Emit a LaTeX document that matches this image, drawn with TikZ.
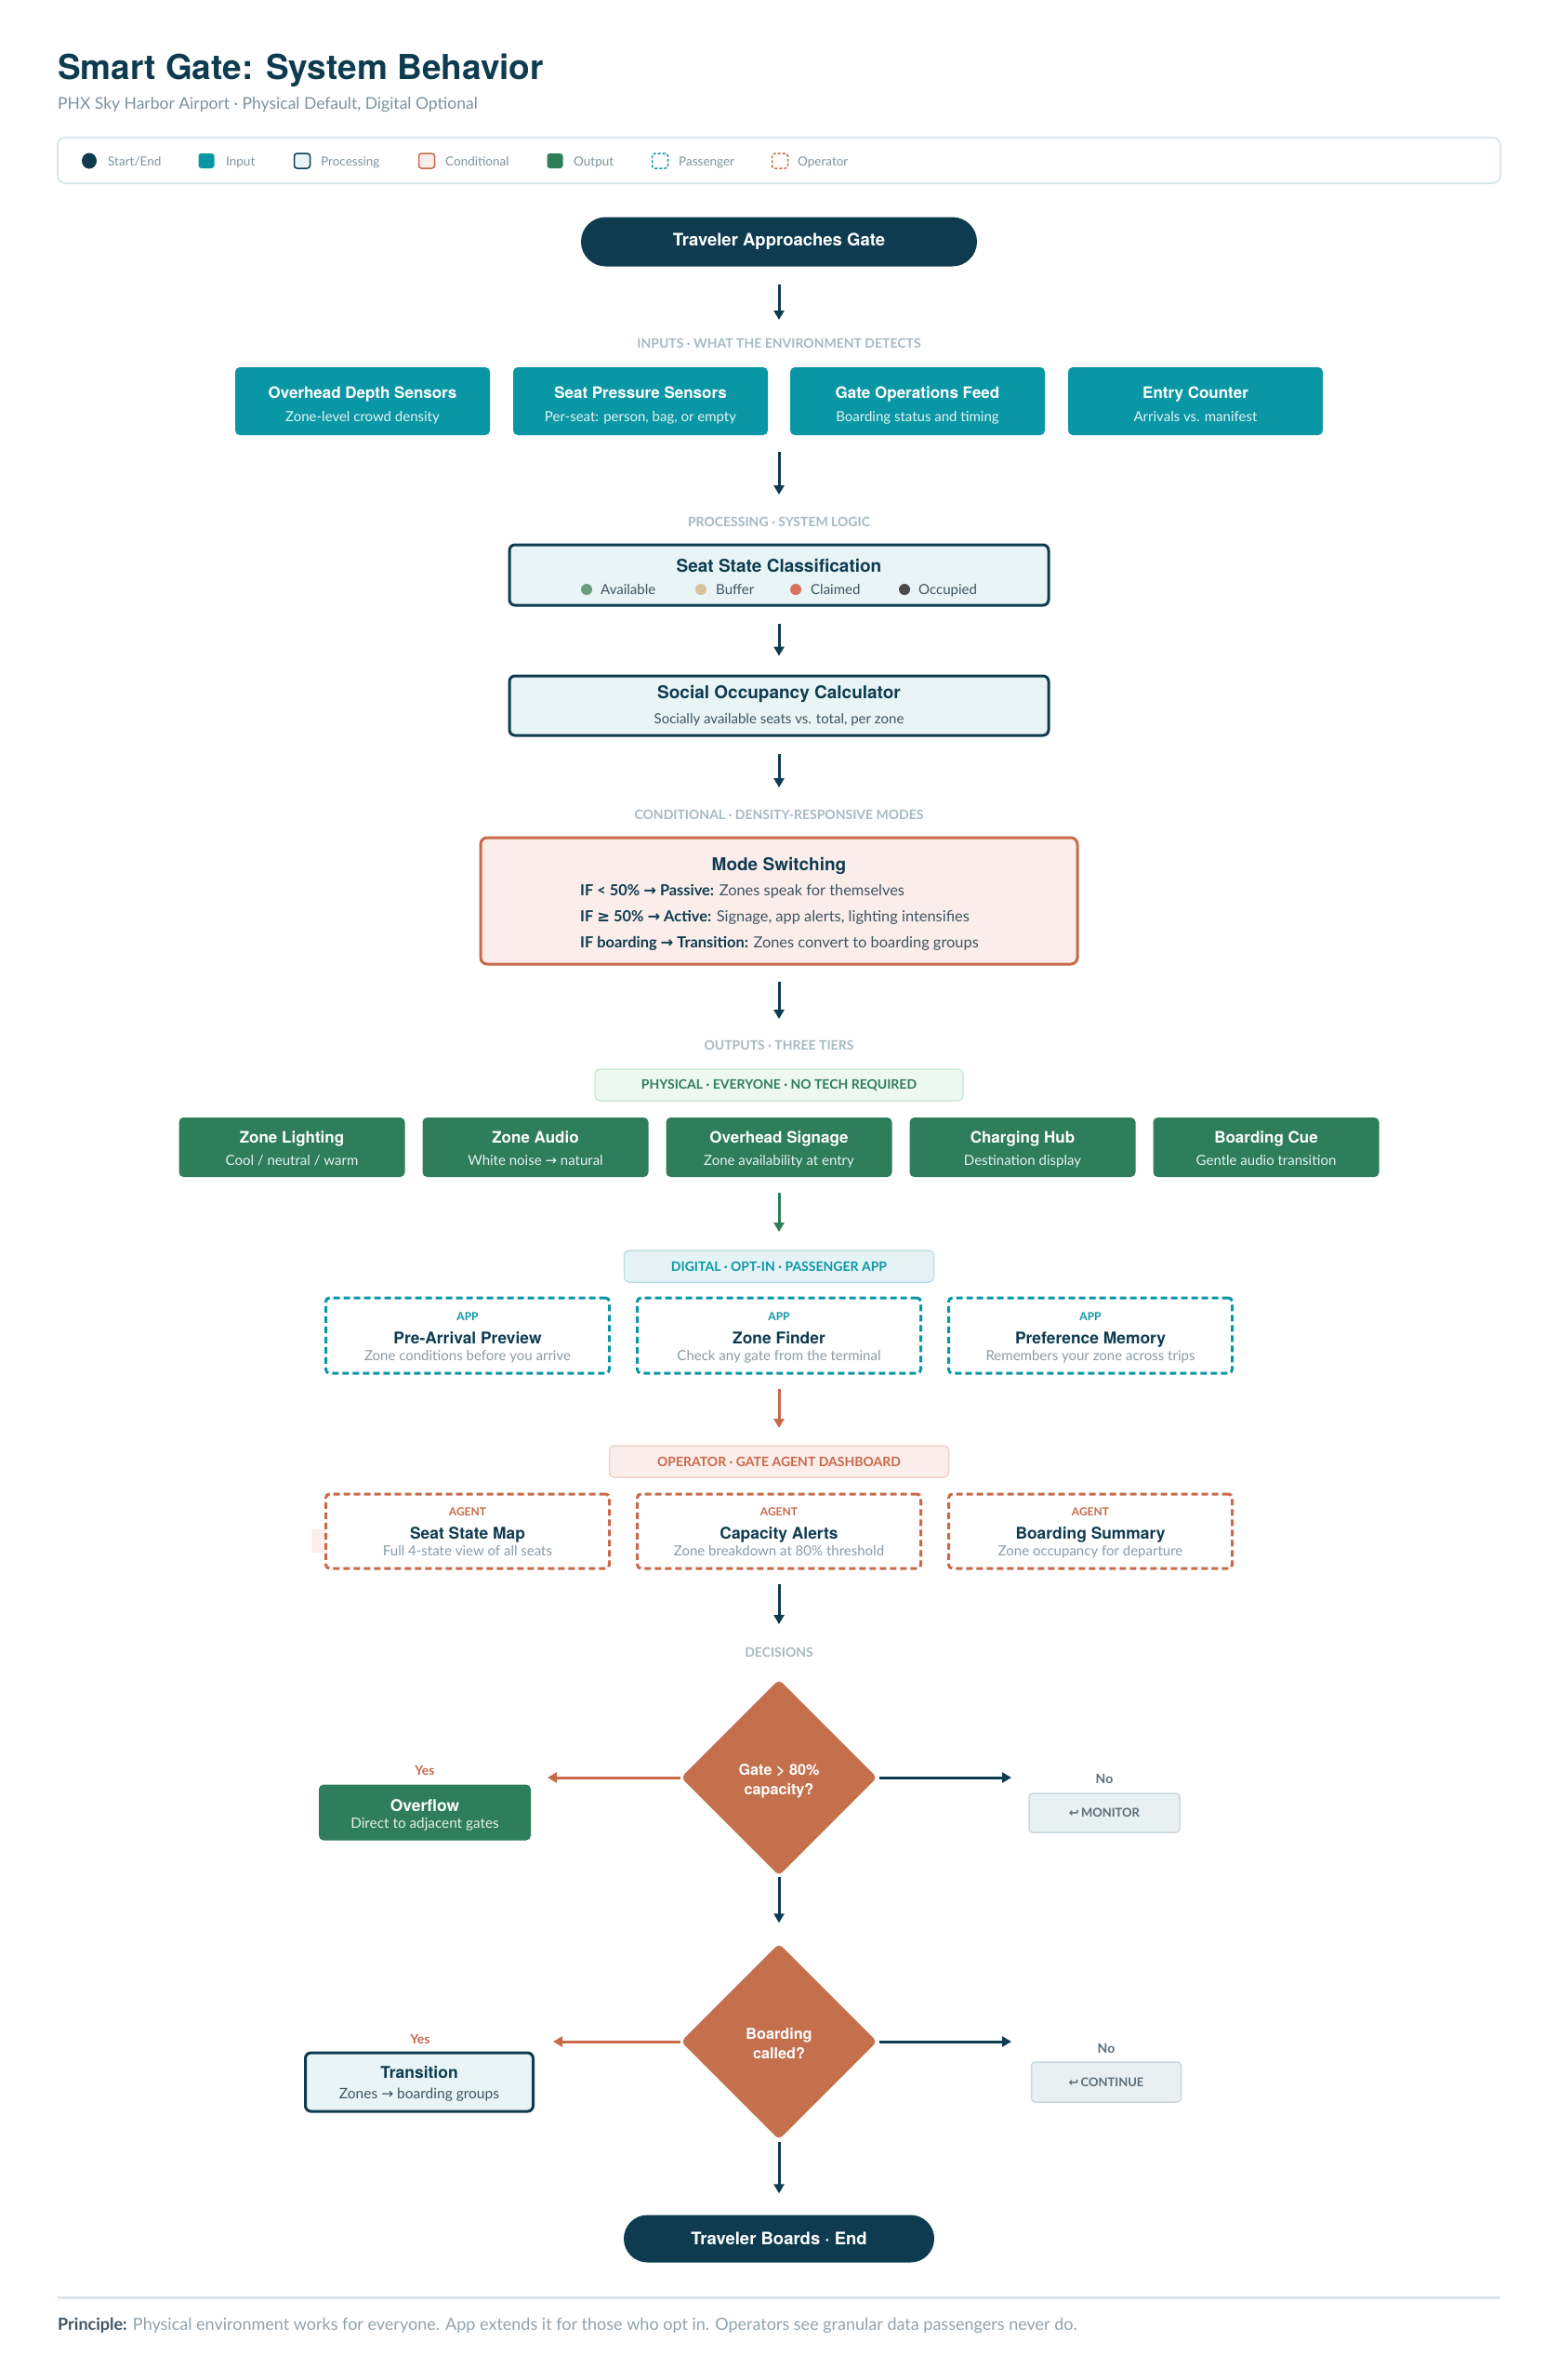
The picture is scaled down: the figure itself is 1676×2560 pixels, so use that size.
\documentclass[tikz,border=0pt]{standalone}
\usepackage{fontspec}
\setmainfont{Lato}
\newfontfamily\hd{TeX Gyre Heros}
\newfontfamily\sym{DejaVu Sans}
\usetikzlibrary{shapes.geometric,shapes.misc,arrows.meta}
\definecolor{cNavy}{HTML}{0E3B50}
\definecolor{cTeal}{HTML}{0A97A5}
\definecolor{cGreen}{HTML}{2E7D5B}
\definecolor{cOrange}{HTML}{C8694A}
\definecolor{cDia}{HTML}{C4704D}
\definecolor{cProc}{HTML}{E8F4F6}
\definecolor{cPink}{HTML}{FBEDEA}
\definecolor{cPinkB}{HTML}{F2D3CA}
\definecolor{cMint}{HTML}{EEF8F2}
\definecolor{cMintB}{HTML}{CDEBD8}
\definecolor{cIce}{HTML}{E6F3F6}
\definecolor{cIceB}{HTML}{BFE0E6}
\definecolor{cSec}{HTML}{A6B9C3}
\definecolor{cLeg}{HTML}{7F929C}
\definecolor{cSub}{HTML}{7D929D}
\definecolor{cSlate}{HTML}{3E5563}
\definecolor{cGray}{HTML}{8A9CA6}
\definecolor{cLegB}{HTML}{DCE7EA}
\definecolor{cGhost}{HTML}{E9F0F2}
\definecolor{cGhostB}{HTML}{C9D8DE}
\definecolor{cGhostT}{HTML}{5A6E7A}
\definecolor{cAvail}{HTML}{6A9E7F}
\definecolor{cBuf}{HTML}{D9C39A}
\definecolor{cClaim}{HTML}{D9735F}
\definecolor{cOcc}{HTML}{4A4A4A}
\definecolor{cFaint}{HTML}{FCEFEB}
\newcommand\fs[1]{\fontsize{#1}{#1}\selectfont}
\begin{document}
\begin{tikzpicture}[x=1pt,y=-1pt,
  txt/.style={anchor=base, inner sep=0pt},
  txtw/.style={anchor=base west, inner sep=0pt},
  sec/.style={txt, font=\bfseries\fs{14}, text=cSec},
  lg/.style={txtw, font=\fs{13.5}, text=cLeg},
  lgi/.style={rectangle, rounded corners=3, minimum width=17, minimum height=16, inner sep=0, line width=1.5},
  term/.style={rounded rectangle, fill=cNavy, text=white, font=\hd\bfseries\fs{18.5}, inner sep=0},
  inbox/.style={rectangle, rounded corners=5, fill=cTeal, minimum width=274, minimum height=73, inner sep=0},
  wt/.style={txt, font=\hd\bfseries\fs{17}, text=white},
  ws/.style={txt, font=\fs{15}, text=white!88!cTeal},
  procbox/.style={rectangle, rounded corners=6, fill=cProc, draw=cNavy, line width=3, minimum width=580, inner sep=0},
  nt/.style={txt, font=\hd\bfseries\fs{19}, text=cNavy},
  condbox/.style={rectangle, rounded corners=7, fill=cPink, draw=cOrange, line width=3, minimum width=642, minimum height=136, inner sep=0},
  tagbox/.style={rectangle, rounded corners=5, line width=1.5, minimum height=34, inner sep=0, font=\bfseries\fs{14}},
  outbox/.style={rectangle, rounded corners=5, fill=cGreen, minimum width=243, minimum height=64, inner sep=0},
  dbox/.style={rectangle, rounded corners=4, dash pattern=on 7pt off 4pt, line width=3, fill=white, minimum width=305, inner sep=0},
  tag/.style={txt, font=\bfseries\fs{12}},
  dt/.style={txt, font=\hd\bfseries\fs{17.4}, text=cNavy},
  ds/.style={txt, font=\fs{15}, text=cGray},
  dec/.style={diamond, aspect=1, fill=cDia, minimum width=211, minimum height=211, inner sep=0, rounded corners=5},
  dect/.style={txt, font=\hd\bfseries\fs{16.2}, text=white},
  yes/.style={txt, font=\bfseries\fs{14}, text=cOrange},
  no/.style={txt, font=\bfseries\fs{14}, text=cGhostT},
  ghost/.style={rectangle, rounded corners=4, fill=cGhost, draw=cGhostB, line width=1.5, font=\bfseries\fs{13}, text=cGhostT, minimum width=162, minimum height=42, inner sep=0},
  arr/.style={line width=3, draw=cNavy, -{Triangle[length=10pt,width=11pt]}},
  arrg/.style={arr, draw=cGreen},
  arro/.style={arr, draw=cOrange}
]
\useasboundingbox (0,0) rectangle (1676,2560);
\fill[white] (0,0) rectangle (1676,2560);

% title
\node[txtw, font=\hd\bfseries\fs{37}, text=cNavy] (title) at (62,85) {Smart Gate: System Behavior};
\node[txtw, font=\fs{17.5}, text=cSub] (subtitle) at (62,117) {PHX Sky Harbor Airport · Physical Default, Digital Optional};

% legend
\node[draw=cLegB, line width=2, rounded corners=8, minimum width=1552, minimum height=49, inner sep=0] (legend) at (838,172.5) {};
\node[ellipse, fill=cNavy, minimum width=16, minimum height=17, inner sep=0] (lgi1) at (96,173) {};
\node[lg] (lgt1) at (116,178) {Start/End};
\node[lgi, fill=cTeal] (lgi2) at (222,173) {};
\node[lg] (lgt2) at (243,178) {Input};
\node[lgi, fill=cProc, draw=cNavy] (lgi3) at (325,173) {};
\node[lg] (lgt3) at (345,178) {Processing};
\node[lgi, fill=cPink, draw=cOrange] (lgi4) at (459,173) {};
\node[lg] (lgt4) at (479,178) {Conditional};
\node[lgi, fill=cGreen] (lgi5) at (597,173) {};
\node[lg] (lgt5) at (617,178) {Output};
\node[lgi, draw=cTeal, dash pattern=on 3pt off 2pt] (lgi6) at (710,173) {};
\node[lg] (lgt6) at (730,178) {Passenger};
\node[lgi, draw=cOrange, dash pattern=on 3pt off 2pt] (lgi7) at (839,173) {};
\node[lg] (lgt7) at (858,178) {Operator};

% start
\node[term, minimum width=426, minimum height=53] (start) at (838,260) {Traveler Approaches Gate};
\coordinate (a1e) at (838,344);
\draw[arr, shorten <=19] (start) -- (a1e);

% inputs
\node[sec] (lblIn) at (838,374) {INPUTS · WHAT THE ENVIRONMENT DETECTS};
\node[inbox] (in1) at (390,431.5) {};
\node[wt] (in1t) at (390,428.5) {Overhead Depth Sensors};
\node[ws] (in1s) at (390,453.5) {Zone-level crowd density};
\node[inbox] (in2) at (689,431.5) {};
\node[wt] (in2t) at (689,428.5) {Seat Pressure Sensors};
\node[ws] (in2s) at (689,453.5) {Per-seat: person, bag, or empty};
\node[inbox] (in3) at (987,431.5) {};
\node[wt] (in3t) at (987,428.5) {Gate Operations Feed};
\node[ws] (in3s) at (987,453.5) {Boarding status and timing};
\node[inbox] (in4) at (1286,431.5) {};
\node[wt] (in4t) at (1286,428.5) {Entry Counter};
\node[ws] (in4s) at (1286,453.5) {Arrivals vs. manifest};
\coordinate (a2s) at (838,486);
\coordinate (a2e) at (838,532);
\draw[arr] (a2s) -- (a2e);

% processing
\node[sec] (lblProc) at (838,566) {PROCESSING · SYSTEM LOGIC};
\node[procbox, minimum height=65] (seat) at (838,618.5) {};
\node[nt] (seatt) at (838,615) {Seat State Classification};
\node[circle, fill=cAvail, minimum size=12, inner sep=0] (dAv) at (631,634) {};
\node[txtw, font=\fs{15}, text=cSlate] (tAv) at (646,639.5) {Available};
\node[circle, fill=cBuf, minimum size=12, inner sep=0] (dBu) at (754,634) {};
\node[txtw, font=\fs{15}, text=cSlate] (tBu) at (770,639.5) {Buffer};
\node[circle, fill=cClaim, minimum size=12, inner sep=0] (dCl) at (856,634) {};
\node[txtw, font=\fs{15}, text=cSlate] (tCl) at (872,639.5) {Claimed};
\node[circle, fill=cOcc, minimum size=12, inner sep=0] (dOc) at (973,634) {};
\node[txtw, font=\fs{15}, text=cSlate] (tOc) at (988,639.5) {Occupied};

\node[procbox, minimum height=64] (social) at (838,759) {};
\node[nt] (socialt) at (838,751) {Social Occupancy Calculator};
\node[txt, font=\fs{15}, text=cSlate] (socials) at (838,778.5) {Socially available seats vs. total, per zone};
\draw[arr, shorten <=18, shorten >=20] (seat) -- (social);
\coordinate (a4e) at (838,847);
\draw[arr, shorten <=18] (social) -- (a4e);

% conditional
\node[sec] (lblCond) at (838,881) {CONDITIONAL · DENSITY-RESPONSIVE MODES};
\node[condbox] (mode) at (838,969) {};
\node[nt] (modet) at (838,936) {Mode Switching};
\node[txtw, font=\fs{16.4}, text=cSlate] (m1) at (624,963) {{\bfseries\color{cNavy}IF < 50\% {\sym →} Passive:} Zones speak for themselves};
\node[txtw, font=\fs{16.4}, text=cSlate] (m2) at (624,991) {{\bfseries\color{cNavy}IF {\sym ≥} 50\% {\sym →} Active:} Signage, app alerts, lighting intensifies};
\node[txtw, font=\fs{16.4}, text=cSlate] (m3) at (624,1019) {{\bfseries\color{cNavy}IF boarding {\sym →} Transition:} Zones convert to boarding groups};
\coordinate (a5e) at (838,1096);
\draw[arr, shorten <=17] (mode) -- (a5e);

% outputs
\node[sec] (lblOut) at (838,1129) {OUTPUTS · THREE TIERS};
\node[tagbox, fill=cMint, draw=cMintB, minimum width=396, text=cGreen] (phys) at (838,1167) {PHYSICAL · EVERYONE · NO TECH REQUIRED};
\node[outbox] (out1) at (314,1234) {};
\node[wt] (out1t) at (314,1229.5) {Zone Lighting};
\node[ws] (out1s) at (314,1253.5) {Cool / neutral / warm};
\node[outbox] (out2) at (576,1234) {};
\node[wt] (out2t) at (576,1229.5) {Zone Audio};
\node[ws] (out2s) at (576,1253.5) {White noise {\sym →} natural};
\node[outbox] (out3) at (838,1234) {};
\node[wt] (out3t) at (838,1229.5) {Overhead Signage};
\node[ws] (out3s) at (838,1253.5) {Zone availability at entry};
\node[outbox] (out4) at (1100,1234) {};
\node[wt] (out4t) at (1100,1229.5) {Charging Hub};
\node[ws] (out4s) at (1100,1253.5) {Destination display};
\node[outbox] (out5) at (1362,1234) {};
\node[wt] (out5t) at (1362,1229.5) {Boarding Cue};
\node[ws] (out5s) at (1362,1253.5) {Gentle audio transition};
\coordinate (a6e) at (838,1325);
\draw[arrg, shorten <=17] (out3) -- (a6e);

% digital
\node[tagbox, fill=cIce, draw=cIceB, minimum width=333, text=cTeal] (digi) at (838,1362) {DIGITAL · OPT-IN · PASSENGER APP};
\node[dbox, draw=cTeal, minimum height=81] (app1) at (503,1436.5) {};
\node[tag, text=cTeal] (app1g) at (503,1420.5) {APP};
\node[dt] (app1t) at (503,1445.5) {Pre-Arrival Preview};
\node[ds] (app1s) at (503,1463.5) {Zone conditions before you arrive};
\node[dbox, draw=cTeal, minimum height=81] (app2) at (838,1436.5) {};
\node[tag, text=cTeal] (app2g) at (838,1420.5) {APP};
\node[dt] (app2t) at (838,1445.5) {Zone Finder};
\node[ds] (app2s) at (838,1463.5) {Check any gate from the terminal};
\node[dbox, draw=cTeal, minimum height=81] (app3) at (1173,1436.5) {};
\node[tag, text=cTeal] (app3g) at (1173,1420.5) {APP};
\node[dt] (app3t) at (1173,1445.5) {Preference Memory};
\node[ds] (app3s) at (1173,1463.5) {Remembers your zone across trips};
\coordinate (a7e) at (838,1536);
\draw[arro, shorten <=15] (app2) -- (a7e);

% operator
\node[tagbox, fill=cPink, draw=cPinkB, minimum width=365, text=cOrange] (oper) at (838,1572) {OPERATOR · GATE AGENT DASHBOARD};
\fill[cFaint] (335,1645) rectangle (352,1670);
\node[dbox, draw=cOrange, minimum height=80] (ag1) at (503,1647) {};
\node[tag, text=cOrange] (ag1g) at (503,1630.5) {AGENT};
\node[dt] (ag1t) at (503,1655.5) {Seat State Map};
\node[ds] (ag1s) at (503,1673.5) {Full 4-state view of all seats};
\node[dbox, draw=cOrange, minimum height=80] (ag2) at (838,1647) {};
\node[tag, text=cOrange] (ag2g) at (838,1630.5) {AGENT};
\node[dt] (ag2t) at (838,1655.5) {Capacity Alerts};
\node[ds] (ag2s) at (838,1673.5) {Zone breakdown at 80\% threshold};
\node[dbox, draw=cOrange, minimum height=80] (ag3) at (1173,1647) {};
\node[tag, text=cOrange] (ag3g) at (1173,1630.5) {AGENT};
\node[dt] (ag3t) at (1173,1655.5) {Boarding Summary};
\node[ds] (ag3s) at (1173,1673.5) {Zone occupancy for departure};
\coordinate (a8e) at (838,1747);
\draw[arr, shorten <=15] (ag2) -- (a8e);

% decisions
\node[sec] (lblDec) at (838,1782) {DECISIONS};
\node[dec] (d1) at (838,1912) {};
\node[dect] (d1a) at (838,1909) {Gate > 80\%};
\node[dect] (d1b) at (838,1930) {capacity?};
\node[yes] (y1) at (457,1909) {Yes};
\node[rectangle, rounded corners=5, fill=cGreen, minimum width=228, minimum height=60, inner sep=0] (over) at (457,1949.5) {};
\node[txt, font=\hd\bfseries\fs{17.5}, text=white] (overt) at (457,1948.5) {Overflow};
\node[txt, font=\fs{15.3}, text=white!88!cGreen] (overs) at (457,1966.5) {Direct to adjacent gates};
\node[no] (n1) at (1188,1918) {No};
\node[ghost] (mon) at (1188,1950) {{\sym ↩}\,MONITOR};
\coordinate (y1e) at (589,1912);
\coordinate (n1e) at (1088,1912);
\draw[arro] (d1) -- (y1e);
\draw[arr, shorten <=2] (d1) -- (n1e);

\node[dec] (d2) at (838,2196) {};
\node[dect] (d2a) at (838,2193) {Boarding};
\node[dect] (d2b) at (838,2214) {called?};
\draw[arr, shorten <=1, shorten >=22] (d1) -- (d2);
\node[yes] (y2) at (452,2198) {Yes};
\node[procbox, minimum width=245, minimum height=63] (trans) at (451,2239.5) {};
\node[txt, font=\hd\bfseries\fs{17.5}, text=cNavy] (transt) at (451,2235.5) {Transition};
\node[txt, font=\fs{15.5}, text=cSlate] (transs) at (451,2257.5) {Zones {\sym →} boarding groups};
\node[no] (n2) at (1190,2208) {No};
\node[ghost, minimum width=161, minimum height=43] (cont) at (1190,2239.5) {{\sym ↩}\,CONTINUE};
\coordinate (y2e) at (595,2196);
\coordinate (n2e) at (1088,2196);
\draw[arro] (d2) -- (y2e);
\draw[arr, shorten <=2] (d2) -- (n2e);

% end
\node[term, minimum width=334, minimum height=51] (end) at (838,2408) {Traveler Boards · End};
\draw[arr, shorten <=2, shorten >=23] (d2) -- (end);

% footer
\coordinate (sepL) at (62,2471);
\coordinate (sepR) at (1614,2471);
\draw[cLegB, line width=3] (sepL) -- (sepR);
\node[txtw, font=\fs{18}, text=cSub!85] (principle) at (62,2506) {{\bfseries\color{cSlate}Principle:} Physical environment works for everyone. App extends it for those who opt in. Operators see granular data passengers never do.};
\end{tikzpicture}
\end{document}
